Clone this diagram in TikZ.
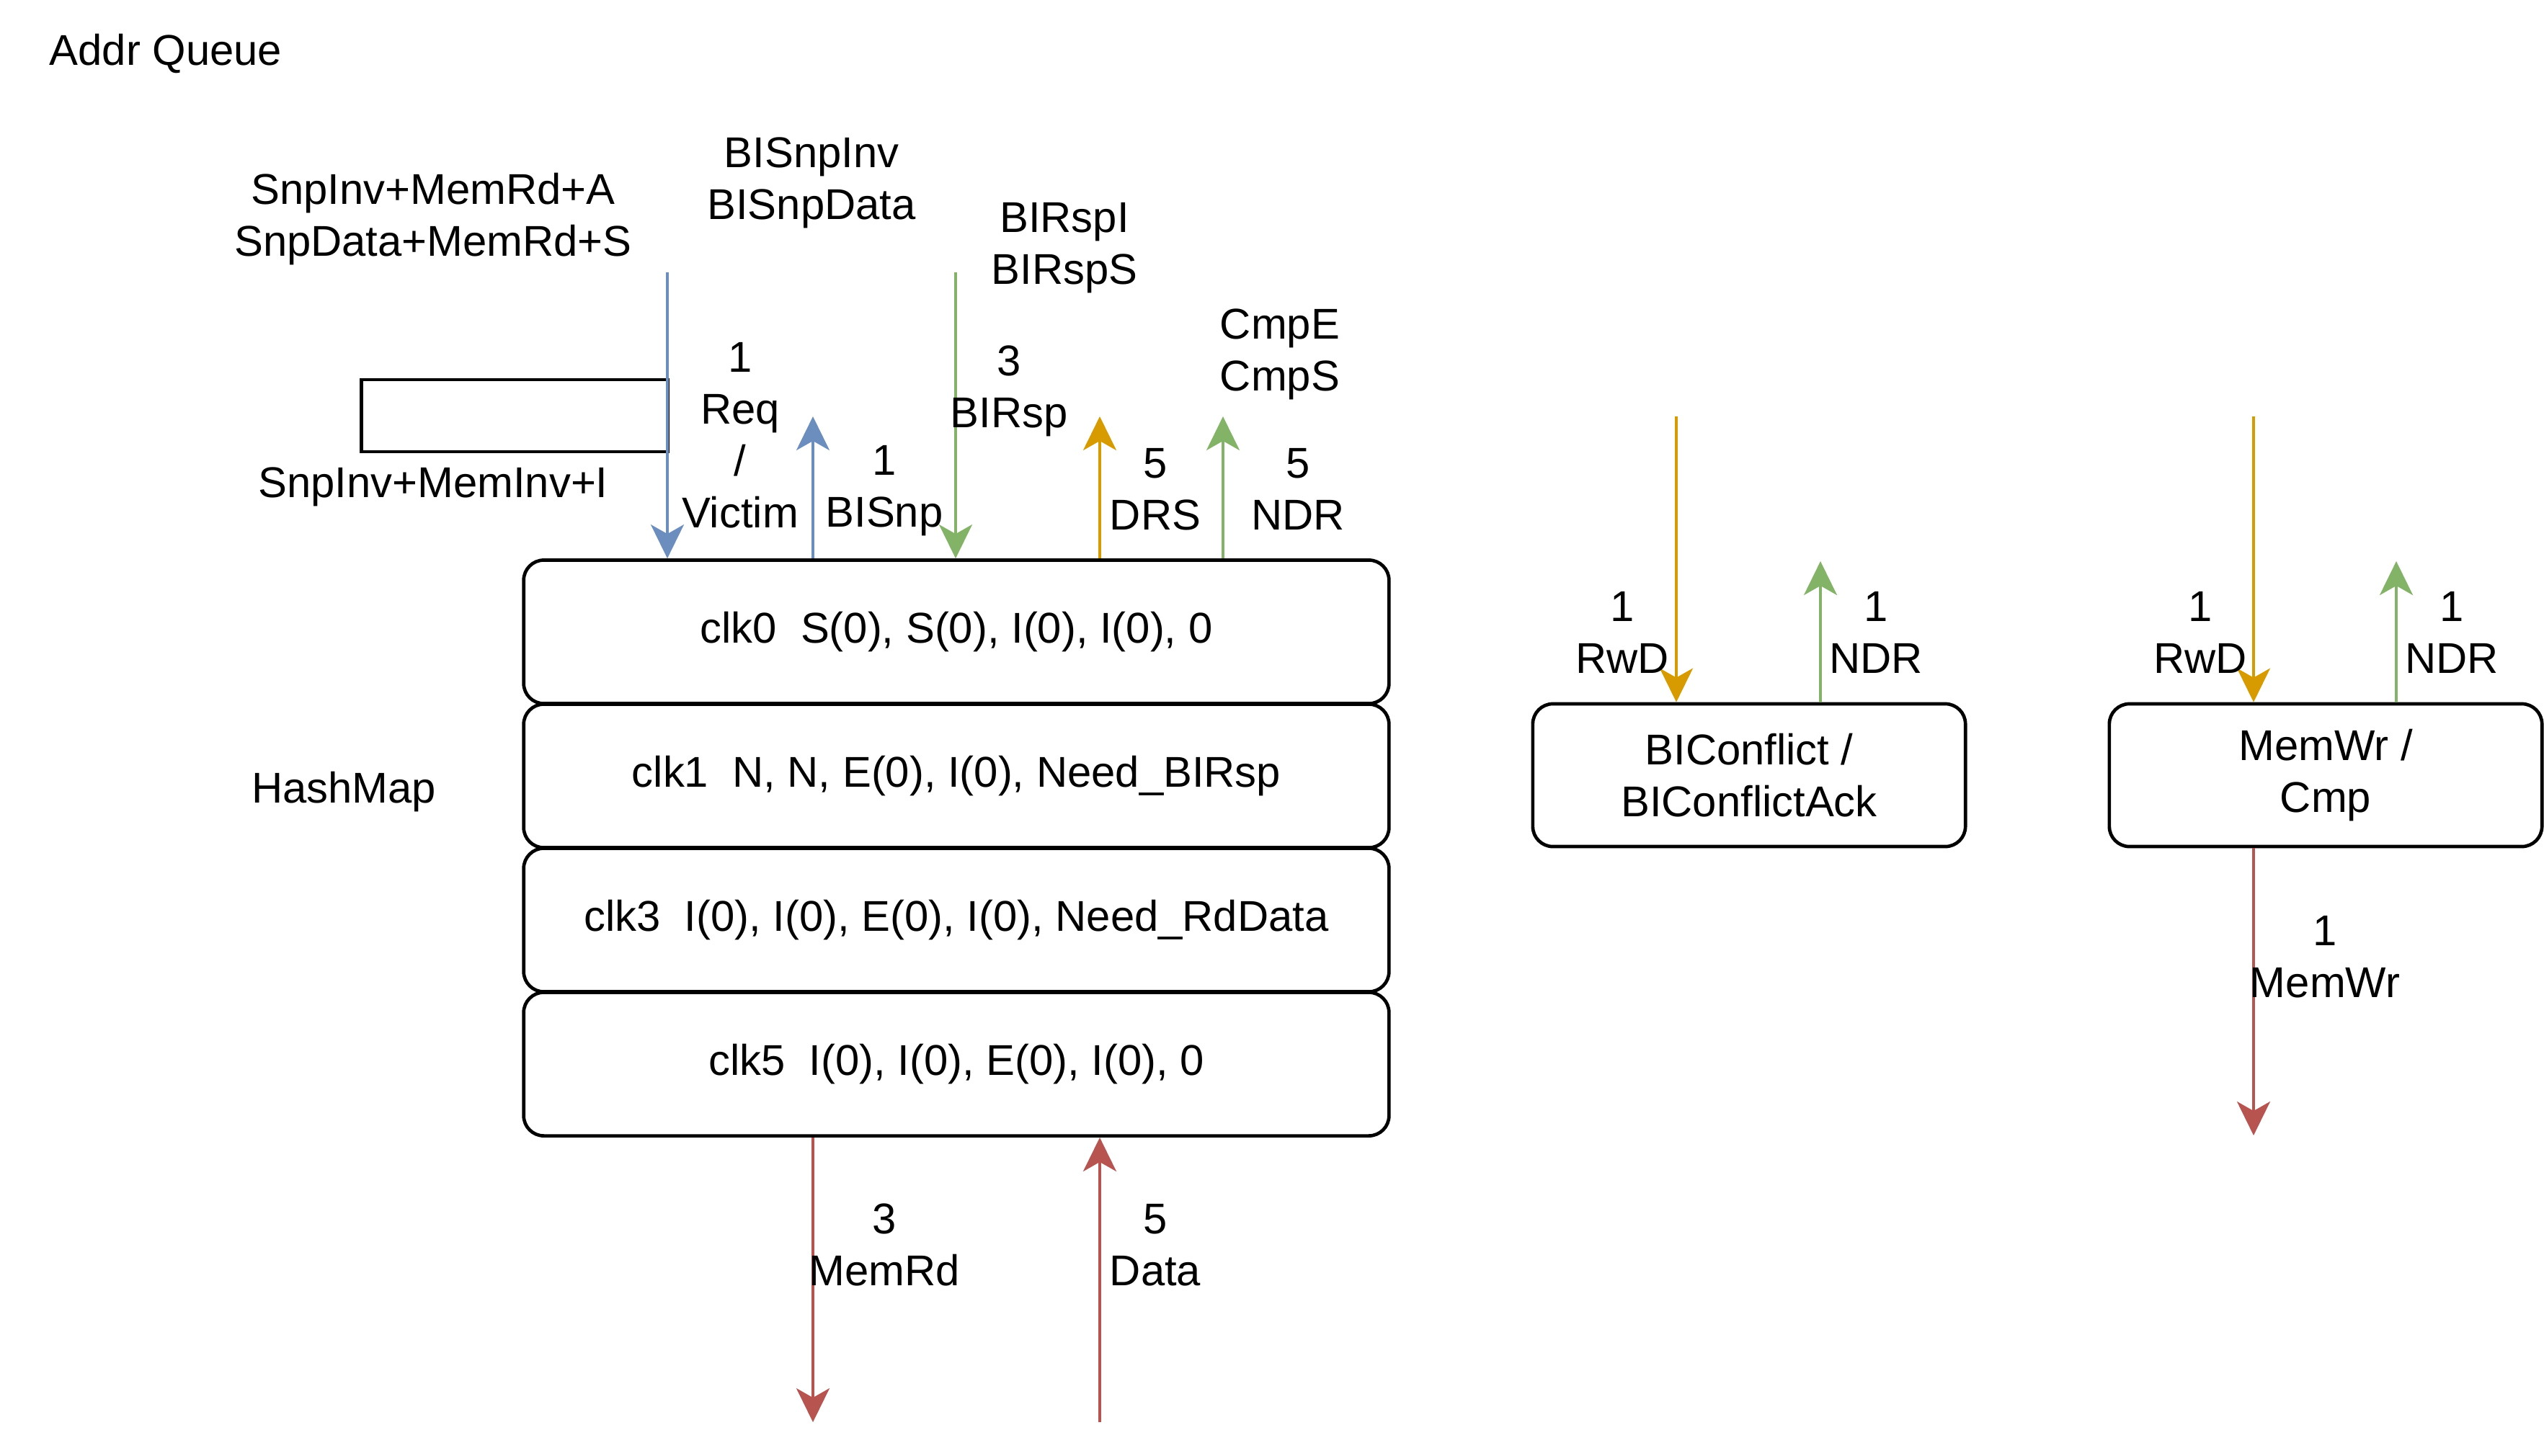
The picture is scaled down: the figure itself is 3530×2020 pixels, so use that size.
\documentclass[tikz,border=0pt]{standalone}
\usepackage{fontspec}
\setmainfont{Liberation Sans}
\usetikzlibrary{arrows.meta,positioning}

\definecolor{qblue}{HTML}{6C8EBF}
\definecolor{qgreen}{HTML}{82B366}
\definecolor{qorange}{HTML}{D79B00}
\definecolor{qred}{HTML}{B85450}

\tikzset{
  row/.style={draw,line width=1.33pt,rounded corners=0.28cm,minimum width=12cm,minimum height=1.99cm,inner sep=0pt},
  unit/.style={draw,line width=1.33pt,rounded corners=0.28cm,minimum width=6cm,minimum height=1.98cm,align=center,inner sep=0pt},
  msg/.style={align=center,inner sep=0pt},
  chan/.style={line width=1pt,-{Stealth[length=0.47cm,width=0.46cm,inset=0.13cm]}},
}

\begin{document}
\begin{tikzpicture}[x=0.01cm,y=-0.01cm,font=\fontsize{17}{20.5}\selectfont]
\useasboundingbox (0,0) rectangle (3530,2020);

% Title
\node[anchor=west,inner sep=0pt] (title) at (68,74) {Addr Queue};

% HashMap rows
\node[row] (clk0) at (1327,877) {clk0~~S(0), S(0), I(0), I(0), 0};
\node[row] (clk1) at (1327,1077) {clk1~~N, N, E(0), I(0), Need\_BIRsp};
\node[row] (clk3) at (1327,1277) {clk3~~I(0), I(0), E(0), I(0), Need\_RdData};
\node[row] (clk5) at (1327,1477) {clk5~~I(0), I(0), E(0), I(0), 0};
\node[msg] (hashmap) at (477,1099) {HashMap};

% Victim buffer
\node[draw,line width=1.33pt,minimum width=4.25cm,minimum height=1cm] (vbuf) at (714,577) {};
\node[msg] (reqtypes) at (601,304) {SnpInv+MemRd+A\\SnpData+MemRd+S};
\node[msg] (invtype) at (601,676) {SnpInv+MemInv+I};

% Channels into / out of clk0
\coordinate (reqin) at (926,378);
\coordinate (bisnpout) at (1128,578);
\coordinate (birspin) at (1326,378);
\coordinate (drsout) at (1526,578);
\coordinate (ndrout) at (1697,578);
\draw[chan,qblue] (reqin) -- (reqin |- clk0.north);
\draw[chan,qblue] (bisnpout |- clk0.north) -- (bisnpout);
\draw[chan,qgreen] (birspin) -- (birspin |- clk0.north);
\draw[chan,qorange] (drsout |- clk0.north) -- (drsout);
\draw[chan,qgreen] (ndrout |- clk0.north) -- (ndrout);

\node[msg] (bisnptypes) at (1126,254) {BISnpInv\\BISnpData};
\node[msg] (birsptypes) at (1477,344) {BIRspI\\BIRspS};
\node[msg] (cmptypes) at (1776,492) {CmpE\\CmpS};
\node[msg] (reqlbl) at (1027,604) {1\\Req\\/\\Victim};
\node[msg] (bisnplbl) at (1227,681) {1\\BISnp};
\node[msg] (birsplbl) at (1400,543) {3\\BIRsp};
\node[msg] (drslbl) at (1603,679) {5\\DRS};
\node[msg] (ndrlbl) at (1801,679) {5\\NDR};

% Memory side
\coordinate (memrdout) at (1128,1974);
\coordinate (datain) at (1526,1974);
\draw[chan,qred] (memrdout |- clk5.south) -- (memrdout);
\draw[chan,qred] (datain) -- (datain |- clk5.south);
\node[msg] (memrdlbl) at (1227,1728) {3\\MemRd};
\node[msg] (datalbl) at (1603,1728) {5\\Data};

% BIConflict
\node[unit] (bic) at (2427,1076) {BIConflict /\\BIConflictAck};
\coordinate (bicrwd) at (2326,578);
\coordinate (bicndr) at (2526,779);
\draw[chan,qorange] (bicrwd) -- (bicrwd |- bic.north);
\draw[chan,qgreen] (bicndr |- bic.north) -- (bicndr);
\node[msg] (bicrwdlbl) at (2251,878) {1\\RwD};
\node[msg] (bicndrlbl) at (2603,878) {1\\NDR};

% MemWr
\node[unit] (mw) at (3227,1076) {MemWr /\\Cmp};
\coordinate (mwrwd) at (3127,578);
\coordinate (mwndr) at (3325,779);
\coordinate (mwout) at (3127,1576);
\draw[chan,qorange] (mwrwd) -- (mwrwd |- mw.north);
\draw[chan,qgreen] (mwndr |- mw.north) -- (mwndr);
\draw[chan,qred] (mwout |- mw.south) -- (mwout);
\node[msg] (mwrwdlbl) at (3053,878) {1\\RwD};
\node[msg] (mwndrlbl) at (3402,878) {1\\NDR};
\node[msg] (mwoutlbl) at (3226,1328) {1\\MemWr};

\end{tikzpicture}
\end{document}
